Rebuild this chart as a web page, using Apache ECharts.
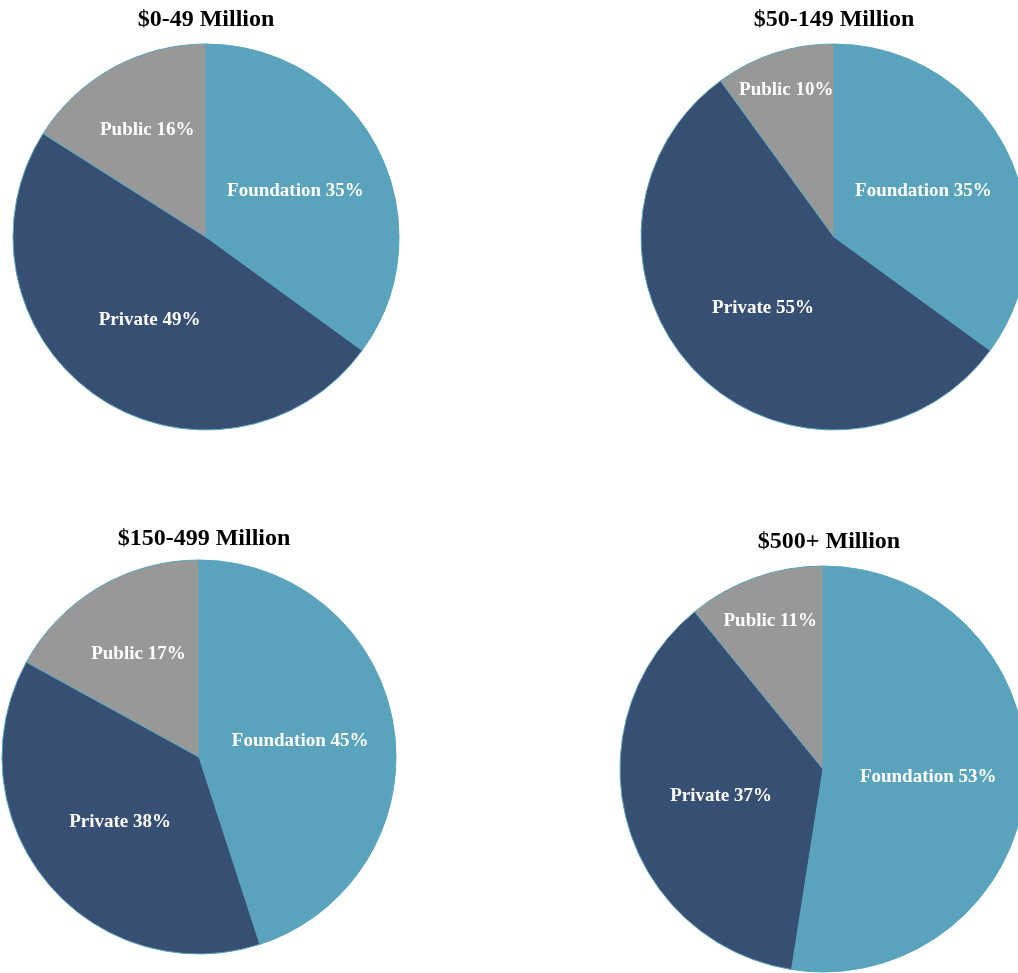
<!DOCTYPE html>
<html>
<head>
<meta charset="utf-8">
<script src="https://cdn.jsdelivr.net/npm/echarts@6/dist/echarts.min.js"></script>
<style>html,body{margin:0;padding:0;background:#fff}#c{width:1018px;height:973px}</style>
</head>
<body>
<div id="c"></div>
<script>
const categories = ['Foundation', 'Private', 'Public'];
const chartTitles = ['$0-49 Million', '$50-149 Million', '$150-499 Million', '$500+ Million'];
const values0to49 = [35, 49, 16];
const values50to149 = [35, 55, 10];
const values150to499 = [45, 38, 17];
const values500plus = [53, 37, 11];
const allValues = [values0to49, values50to149, values150to499, values500plus];

const colors = ['#59a4bc', '#374f72', '#989898'];
const FONT = '"Liberation Serif", "DejaVu Serif", serif';
const layout = [
  {cx: 206, cy: 237, r: 193, tx: 206, ty: 8},
  {cx: 834, cy: 237, r: 193, tx: 834, ty: 8},
  {cx: 199, cy: 757, r: 197, tx: 204, ty: 527},
  {cx: 823, cy: 769, r: 203, tx: 829, ty: 530}
];

// label placement similar to the spreadsheet "best fit": small slices push labels outward
function labelPos(si, di) {
  const vals = allValues[si];
  const total = vals.reduce((a, b) => a + b, 0);
  let before = 0;
  for (let k = 0; k < di; k++) before += vals[k];
  const pct = vals[di] / total * 100;
  const mid = (before + vals[di] / 2) / total * 2 * Math.PI;
  const frac = 0.52 + Math.max(0, 20 - pct) * 0.028;
  const l = layout[si];
  return {x: l.cx + Math.sin(mid) * l.r * frac, y: l.cy - Math.cos(mid) * l.r * frac};
}

const chart = echarts.init(document.getElementById('c'));
chart.setOption({
  animation: false,
  color: colors,
  title: layout.map((l, i) => ({
    text: chartTitles[i],
    left: l.tx,
    top: l.ty,
    textAlign: 'center',
    padding: 0,
    textStyle: {fontFamily: FONT, fontWeight: 'bold', fontSize: 24, color: '#000'}
  })),
  series: layout.map((l, i) => ({
    type: 'pie',
    center: [l.cx, l.cy],
    radius: [0, l.r],
    startAngle: 90,
    clockwise: true,
    silent: true,
    itemStyle: {borderColor: '#59a4bc', borderWidth: 1},
    label: {
      show: true,
      position: 'inside',
      formatter: '{b} {c}%',
      color: '#fff',
      fontFamily: FONT,
      fontWeight: 'bold',
      fontSize: 19
    },
    labelLayout: function (p) {
      const pos = labelPos(p.seriesIndex, p.dataIndex);
      return {x: pos.x, y: pos.y, align: 'center', verticalAlign: 'middle'};
    },
    labelLine: {show: false},
    data: categories.map((c, j) => ({name: c, value: allValues[i][j]}))
  }))
});
</script>
</body>
</html>
